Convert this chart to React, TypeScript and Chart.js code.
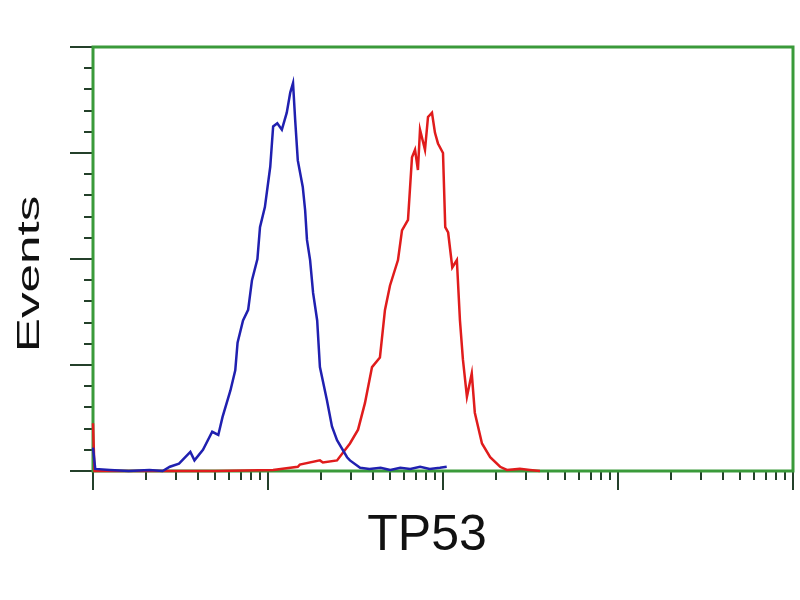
import React, { useEffect, useRef } from "react";
import { Chart, registerables } from "chart.js";

Chart.register(...registerables);

// Fluorescence intensity (log scale) and event counts
const blueIntensity = [1, 1.03, 1.25, 1.6, 2.1, 2.5, 2.75, 3.1, 3.6, 3.8, 4.25, 4.8, 5.2, 5.5, 6.1, 6.5, 6.7, 7.2, 7.7, 8.1, 8.7, 9.0, 9.6, 10.3, 10.7, 11.3, 12.0, 12.8, 13.4, 13.9, 14.3, 14.8, 15.8, 16.3, 16.7, 17.4, 18.1, 19.1, 19.8, 21.7, 23.2, 24.8, 28.3, 29.4, 33.6, 38, 44, 50, 57, 65, 74, 84, 96, 105];
const blueEvents = [22, 2, 1, 0, 1, 0, 4, 7, 18, 10, 20, 37, 34, 51, 76, 95, 121, 142, 152, 180, 200, 230, 249, 287, 325, 328, 322, 338, 357, 366, 331, 293, 268, 246, 218, 199, 168, 142, 98, 67, 42, 29, 13, 10, 3, 2, 3, 1, 3, 2, 4, 2, 3, 4];

const redIntensity = [1, 1.02, 2, 5, 10.7, 14.8, 15.2, 19.8, 20.6, 24.8, 29.4, 32.7, 35.8, 39.3, 43.6, 46.6, 49.8, 55.3, 58.3, 63.1, 66.5, 69.2, 71.9, 73.9, 78.9, 82.1, 86.5, 90.0, 93.6, 100, 103, 107, 113, 120, 125, 130, 137, 146, 152, 167, 186, 212, 232, 275, 314, 358];
const redEvents = [45, 0, 0, 0, 1, 4, 6, 10, 8, 10, 26, 39, 64, 98, 107, 152, 175, 199, 227, 237, 296, 303, 284, 322, 303, 334, 338, 319, 309, 300, 230, 225, 192, 199, 142, 105, 70, 92, 55, 26, 13, 4, 1, 2, 1, 0];

const xDecades = [1, 10, 100, 1000, 10000];
const yMajorTicks = [0, 100, 200, 300, 400];
const yMinorStep = 20;
const xTitle = "TP53";
const yTitle = "Events";

const toPoints = (xs: number[], ys: number[]) => xs.map((x, i) => ({ x, y: ys[i] }));

const framePlugin = {
  id: "facsFrame",
  beforeDatasetsDraw(chart: any) {
    const { ctx, chartArea } = chart;
    const xs = chart.scales.x;
    const ys = chart.scales.y;
    const { left, right, top, bottom } = chartArea;
    ctx.save();
    ctx.strokeStyle = "#24402a";
    ctx.lineWidth = 2;
    ctx.beginPath();
    for (let v = yMajorTicks[0]; v <= yMajorTicks[yMajorTicks.length - 1]; v += yMinorStep) {
      const py = Math.round(ys.getPixelForValue(v));
      const major = yMajorTicks.includes(v);
      ctx.moveTo(left - (major ? 23 : 9), py);
      ctx.lineTo(left, py);
    }
    for (let d = 0; d < xDecades.length; d++) {
      const base = xDecades[d];
      const px = Math.round(xs.getPixelForValue(base));
      ctx.moveTo(px, bottom);
      ctx.lineTo(px, bottom + 19);
      if (d < xDecades.length - 1) {
        for (let m = 2; m <= 9; m++) {
          const mx = Math.round(xs.getPixelForValue(base * m));
          ctx.moveTo(mx, bottom);
          ctx.lineTo(mx, bottom + 9);
        }
      }
    }
    ctx.stroke();
    ctx.strokeStyle = "#3a9a3a";
    ctx.lineWidth = 3;
    ctx.strokeRect(left, top, right - left, bottom - top);
    ctx.restore();
  },
  afterDraw(chart: any) {
    const { ctx } = chart;
    ctx.save();
    ctx.fillStyle = "#111";
    ctx.font = "50px 'Liberation Sans', Arial, sans-serif";
    ctx.textAlign = "center";
    ctx.textBaseline = "alphabetic";
    ctx.fillText(xTitle, 427, 550);
    ctx.translate(39, 274);
    ctx.rotate(-Math.PI / 2);
    ctx.scale(1.6, 1);
    ctx.font = "32px 'Liberation Sans', Arial, sans-serif";
    ctx.fillText(yTitle, 0, 0);
    ctx.restore();
  },
};

export default function App() {
  const ref = useRef<HTMLCanvasElement | null>(null);
  useEffect(() => {
    if (!ref.current) return;
    const chart = new Chart(ref.current, {
      type: "line",
      data: {
        datasets: [
          {
            label: "Control",
            data: toPoints(blueIntensity, blueEvents),
            borderColor: "#2020b0",
            borderWidth: 2.5,
            pointRadius: 0,
            tension: 0,
            clip: false as any,
          },
          {
            label: "TP53",
            data: toPoints(redIntensity, redEvents),
            borderColor: "#e01c1c",
            borderWidth: 2.5,
            pointRadius: 0,
            tension: 0,
            clip: false as any,
          },
        ],
      },
      options: {
        animation: false,
        responsive: false,
        devicePixelRatio: 1,
        layout: { padding: { left: 93, top: 47, right: 7, bottom: 129 } },
        plugins: { legend: { display: false }, tooltip: { enabled: false } },
        scales: {
          x: { type: "logarithmic", min: 1, max: 10000, display: false },
          y: { type: "linear", min: 0, max: 400, display: false },
        },
      },
      plugins: [framePlugin],
    });
    return () => chart.destroy();
  }, []);
  return (
    <div style={{ position: "absolute", left: 0, top: 0, width: 800, height: 600, background: "#fff" }}>
      <canvas ref={ref} width={800} height={600} />
    </div>
  );
}
